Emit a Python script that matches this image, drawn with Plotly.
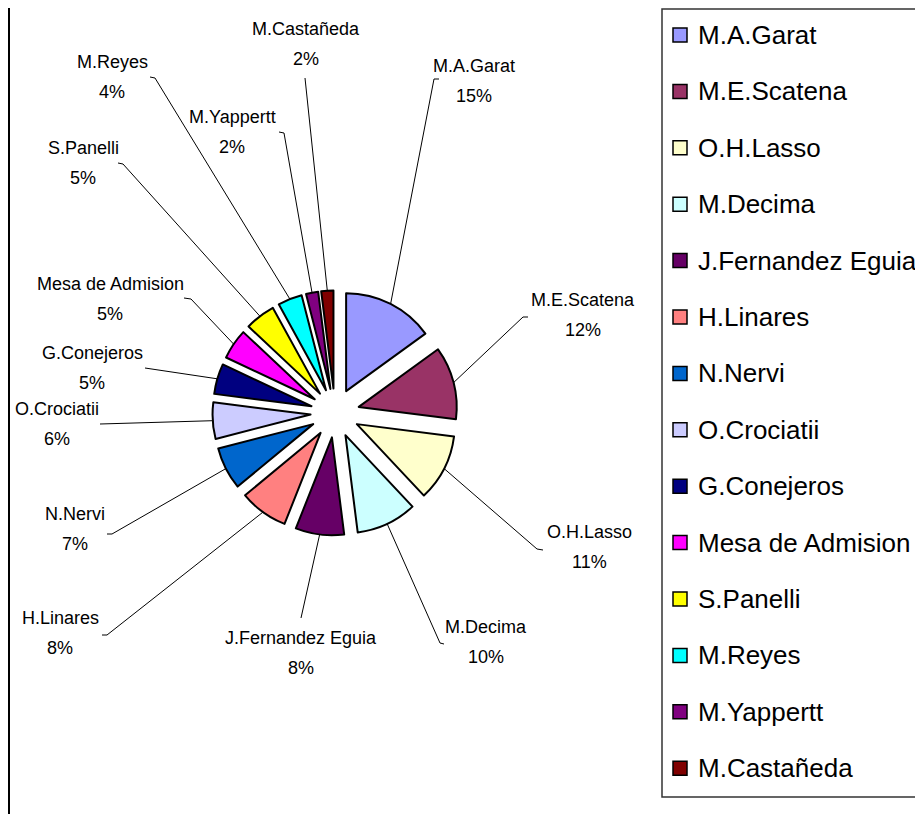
import math
import plotly.graph_objects as go

# ---------------- data ----------------
labels = ["M.A.Garat", "M.E.Scatena", "O.H.Lasso", "M.Decima", "J.Fernandez Eguia",
          "H.Linares", "N.Nervi", "O.Crociatii", "G.Conejeros", "Mesa de Admision",
          "S.Panelli", "M.Reyes", "M.Yappertt", "M.Castañeda"]
values = [15, 12, 11, 10, 8, 8, 7, 6, 5, 5, 5, 4, 2, 2]
colors = ["#9999FF", "#993366", "#FFFFCC", "#CCFFFF", "#660066",
          "#FF8080", "#0066CC", "#CCCCFF", "#000080", "#FF00FF",
          "#FFFF00", "#00FFFF", "#800080", "#800000"]

# ---------------- layout (page pixels) ----------------
PAGE_W, PAGE_H = 923, 814
OFF = 8                      # default body margin of the html page
W, H = PAGE_W - OFF, PAGE_H - OFF
CX, CY, R, PULL = 335, 413, 98, 0.25
FONT = "Liberation Sans, Arial, sans-serif"

# label text centres (name line); percentage sits one line below
label_pos = [(474, 66), (583, 300), (589, 532), (486, 627), (301, 638),
             (60, 618), (75, 514), (57, 409), (92, 353), (110, 284),
             (83, 148), (112, 62), (232, 117), (306, 29)]
# leader line start (next to label) and optional short bend
leader_start = [(439, 79), (528, 317), (543, 550), (444, 644), (301, 618),
                (102, 635), (107, 534), (100, 424), (145, 368), (184, 298),
                (118, 163), (150, 77), (279, 132), (305, 78)]
leader_bend = [(434, 79), (523, 317), (537, 549), (440, 643), None,
               (107, 635), (112, 534), None, None, (191, 299),
               (123, 164), (155, 78), (284, 133), None]


def px(x):
    return (x - OFF) / W


def py(y):
    return 1 - (y - OFF) / H


half = R * (1 + PULL)
fig = go.Figure(go.Pie(
    labels=labels, values=values, sort=False, direction="clockwise", rotation=0,
    marker=dict(colors=colors, line=dict(color="black", width=2)),
    pull=[PULL] * len(values), textinfo="none", showlegend=False,
    domain=dict(x=[px(CX - half), px(CX + half)], y=[py(CY + half), py(CY - half)]),
))

shapes = []
annotations = []
total = sum(values)
cum = 0.0
for i, (lab, v) in enumerate(zip(labels, values)):
    mid = (cum + v / 2) / total * 2 * math.pi
    cum += v
    ex = CX + half * math.sin(mid)
    ey = CY - half * math.cos(mid)
    sx, sy = leader_start[i]
    path = f"M {px(sx)},{py(sy)}"
    if leader_bend[i] is not None:
        bx, by = leader_bend[i]
        path += f" L {px(bx)},{py(by)}"
    path += f" L {px(ex)},{py(ey)}"
    shapes.append(dict(type="path", xref="paper", yref="paper", path=path,
                       line=dict(color="black", width=1)))
    lx, ly = label_pos[i]
    pct = f"{round(v / total * 100)}%"
    annotations.append(dict(x=px(lx), y=py(ly), xref="paper", yref="paper", text=lab,
                            showarrow=False, xanchor="center", yanchor="middle",
                            font=dict(family=FONT, size=18, color="black")))
    annotations.append(dict(x=px(lx), y=py(ly + 30), xref="paper", yref="paper", text=pct,
                            showarrow=False, xanchor="center", yanchor="middle",
                            font=dict(family=FONT, size=18, color="black")))

# left frame line
shapes.append(dict(type="line", xref="paper", yref="paper", x0=px(9), x1=px(9), y0=0, y1=1,
                   line=dict(color="black", width=2)))
# legend box
shapes.append(dict(type="rect", xref="paper", yref="paper", x0=px(662), x1=px(921),
                   y0=py(797), y1=py(9), line=dict(color="#333333", width=1.5),
                   fillcolor="rgba(0,0,0,0)"))
# legend entries
LEG_TOP, LEG_STEP = 35, 56.4
for i, lab in enumerate(labels):
    yc = LEG_TOP + i * LEG_STEP
    shapes.append(dict(type="rect", xref="paper", yref="paper",
                       x0=px(673), x1=px(687), y0=py(yc + 7), y1=py(yc - 7),
                       fillcolor=colors[i], line=dict(color="black", width=1.5)))
    annotations.append(dict(x=px(696), y=py(yc), xref="paper", yref="paper", text=lab,
                            showarrow=False, xanchor="left", yanchor="middle",
                            font=dict(family=FONT, size=26, color="black")))

fig.update_layout(width=W, height=H, autosize=False,
                  margin=dict(l=0, r=0, t=0, b=0, pad=0),
                  paper_bgcolor="white", plot_bgcolor="white",
                  shapes=shapes, annotations=annotations, showlegend=False)

fig.write_html("out.html")
